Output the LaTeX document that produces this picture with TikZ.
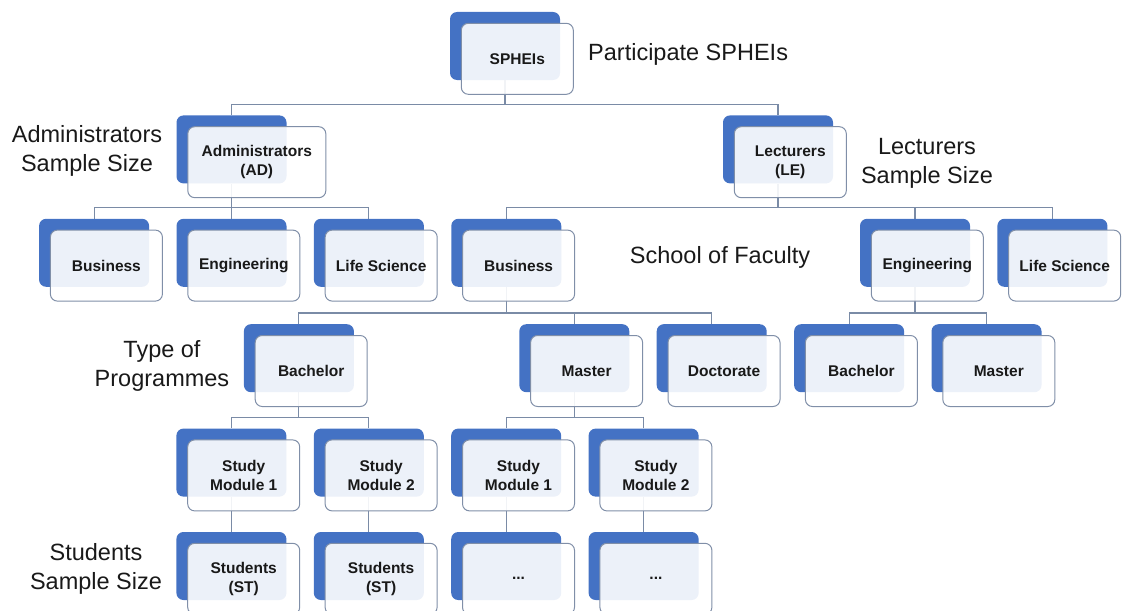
\documentclass[tikz,border=0pt]{standalone}
\usepackage{fontspec}
\setmainfont{Liberation Sans}
\usepackage{xcolor}
\definecolor{boxblue}{RGB}{68, 114, 196}
\definecolor{edgegray}{RGB}{128, 143, 168}
\definecolor{linkgray}{RGB}{122, 139, 166}
\definecolor{inkblack}{RGB}{25, 25, 25}
\usepackage{tikz}
\usetikzlibrary{positioning,backgrounds}

\begin{document}
\begin{tikzpicture}[x=1pt, y=-1pt, node distance=35pt and 27pt,
    back/.style={rectangle, rounded corners=7pt, fill=boxblue, minimum width=110pt, minimum height=68pt, inner sep=0pt},
    front/.style={rectangle, rounded corners=7pt, draw=edgegray, line width=1pt, fill=white, fill opacity=0.9, text opacity=1,
                  minimum width=112pt, minimum height=71pt, inner sep=0pt, anchor=north west, xshift=11pt, yshift=-11pt,
                  align=center, text=inkblack, font=\fontsize{15.5}{18.5}\selectfont\bfseries},
    note/.style={inner sep=0pt, align=center, text=inkblack, font=\fontsize{23.5}{29}\selectfont},
    link/.style={draw=linkgray, line width=1.1pt}]
    \useasboundingbox (0,0) rectangle (1123,610);

    % Top level
    \node[back] (sphei) at (505,46) {};

    % Sample groups
    \node[back, below=35pt of sphei, xshift=-273.5pt] (ad) {};
    \node[back, below=35pt of sphei, xshift=273pt] (le) {};

    % Schools
    \node[back, below=35pt of ad] (adeng) {};
    \node[back, left=27pt of adeng] (adbus) {};
    \node[back, right=27pt of adeng] (adlife) {};
    \node[back, right=27pt of adlife] (lebus) {};
    \node[back, below=35pt of le, xshift=137pt] (leeng) {};
    \node[back, right=27pt of leeng] (lelife) {};

    % Programmes
    \node[back, below=37pt of lebus, xshift=68pt] (master) {};
    \node[back, right=27pt of master] (doctor) {};
    \node[back, left=165pt of master] (bachelor) {};
    \node[back, right=27pt of doctor] (engbach) {};
    \node[back, right=27pt of engbach] (engmaster) {};

    % Study modules
    \node[back, below=36pt of bachelor, xshift=-67.5pt] (bamod1) {};
    \node[back, right=27pt of bamod1] (bamod2) {};
    \node[back, right=27pt of bamod2] (mamod1) {};
    \node[back, right=27pt of mamod1] (mamod2) {};

    % Students
    \node[back, below=35pt of bamod1] (bast1) {};
    \node[back, below=35pt of bamod2] (bast2) {};
    \node[back, below=35pt of mamod1] (mast1) {};
    \node[back, below=35pt of mamod2] (mast2) {};

    % Text boxes on top
    \node[front] (sphei-txt) at (sphei.north west) {SPHEIs};
    \node[front, minimum width=138pt] (ad-txt) at (ad.north west) {Administrators\\(AD)};
    \node[front] (le-txt) at (le.north west) {Lecturers\\(LE)};
    \node[front] (adbus-txt) at (adbus.north west) {Business};
    \node[front] (adeng-txt) at (adeng.north west) {Engineering};
    \node[front] (adlife-txt) at (adlife.north west) {Life Science};
    \node[front] (lebus-txt) at (lebus.north west) {Business};
    \node[front] (leeng-txt) at (leeng.north west) {Engineering};
    \node[front] (lelife-txt) at (lelife.north west) {Life Science};
    \node[front] (bachelor-txt) at (bachelor.north west) {Bachelor};
    \node[front] (master-txt) at (master.north west) {Master};
    \node[front] (doctor-txt) at (doctor.north west) {Doctorate};
    \node[front] (engbach-txt) at (engbach.north west) {Bachelor};
    \node[front] (engmaster-txt) at (engmaster.north west) {Master};
    \node[front] (bamod1-txt) at (bamod1.north west) {Study\\Module 1};
    \node[front] (bamod2-txt) at (bamod2.north west) {Study\\Module 2};
    \node[front] (mamod1-txt) at (mamod1.north west) {Study\\Module 1};
    \node[front] (mamod2-txt) at (mamod2.north west) {Study\\Module 2};
    \node[front] (bast1-txt) at (bast1.north west) {Students\\(ST)};
    \node[front] (bast2-txt) at (bast2.north west) {Students\\(ST)};
    \node[front] (mast1-txt) at (mast1.north west) {...};
    \node[front] (mast2-txt) at (mast2.north west) {...};

    % Level notes
    \node[note, anchor=west] (sphei-note) at (588,54) {Participate SPHEIs};
    \node[note] (ad-note) at (87,151) {Administrators\\Sample Size};
    \node[note] (le-note) at (927,163) {Lecturers\\Sample Size};
    \node[note] (school-note) at (720,257) {School of Faculty};
    \node[note] (prog-note) at (162,366) {Type of\\Programmes};
    \node[note] (st-note) at (96,569) {Students\\Sample Size};

    % Tree connectors
    \begin{scope}[on background layer]
    \draw[link] (ad.north) -- ++(0,-11) -| (sphei.south);
    \draw[link] (le.north) -- ++(0,-11) -| (sphei.south);

    \draw[link] (adbus.north) -- ++(0,-11) -| (ad.south);
    \draw[link] (adeng.north) -- ++(0,-11) -| (ad.south);
    \draw[link] (adlife.north) -- ++(0,-11) -| (ad.south);
    \draw[link] (lebus.north) -- ++(0,-11) -| (le.south);
    \draw[link] (leeng.north) -- ++(0,-11) -| (le.south);
    \draw[link] (lelife.north) -- ++(0,-11) -| (le.south);

    \draw[link] (bachelor.north) -- ++(0,-11) -| (lebus.south);
    \draw[link] (master.north) -- ++(0,-11) -| (lebus.south);
    \draw[link] (doctor.north) -- ++(0,-11) -| (lebus.south);
    \draw[link] (engbach.north) -- ++(0,-11) -| (leeng.south);
    \draw[link] (engmaster.north) -- ++(0,-11) -| (leeng.south);

    \draw[link] (bamod1.north) -- ++(0,-11) -| (bachelor.south);
    \draw[link] (bamod2.north) -- ++(0,-11) -| (bachelor.south);
    \draw[link] (mamod1.north) -- ++(0,-11) -| (master.south);
    \draw[link] (mamod2.north) -- ++(0,-11) -| (master.south);

    \draw[link] (bamod1.south) -- (bast1.north);
    \draw[link] (bamod2.south) -- (bast2.north);
    \draw[link] (mamod1.south) -- (mast1.north);
    \draw[link] (mamod2.south) -- (mast2.north);
    \end{scope}
\end{tikzpicture}
\end{document}
